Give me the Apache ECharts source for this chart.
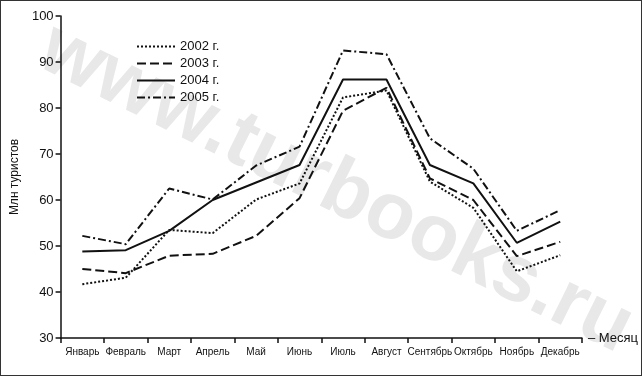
<!DOCTYPE html>
<html>
<head>
<meta charset="utf-8">
<script src="https://cdn.jsdelivr.net/npm/echarts@6/dist/echarts.min.js"></script>
<style>
  html, body { margin: 0; padding: 0; background: #fff; }
  #chart { width: 640px; height: 374px; border: 1px solid #333; }
</style>
</head>
<body>
<div id="chart"></div>
<script>
// месяцы
const months = ["Январь", "Февраль", "Март", "Апрель", "Май", "Июнь", "Июль",
  "Август", "Сентябрь", "Октябрь", "Ноябрь", "Декабрь"];

// млн туристов по годам
const y2002 = [41.7, 43.1, 53.5, 52.8, 60.1, 63.6, 82.3, 83.8, 64.0, 58.3, 44.5, 48.0];
const y2003 = [45.0, 44.1, 47.9, 48.3, 52.2, 60.4, 79.4, 84.4, 64.7, 60.0, 47.8, 50.9];
const y2004 = [48.8, 49.1, 53.3, 60.0, 63.8, 67.6, 86.2, 86.2, 67.6, 63.6, 50.7, 55.3];
const y2005 = [52.2, 50.4, 62.5, 60.1, 67.5, 71.6, 92.5, 91.7, 73.4, 66.8, 53.3, 57.8];

const font = "Liberation Sans";
const ink = "#111";

const chart = echarts.init(document.getElementById("chart"));

const line = (name, data, type, width) => ({
  name,
  type: "line",
  data,
  symbol: "none",
  z: 5,
  itemStyle: { color: ink },
  lineStyle: { color: ink, width, type }
});

chart.setOption({
  animation: false,
  textStyle: { fontFamily: font, color: ink },
  graphic: [
    {
      type: "text",
      z: -10,
      x: 335, y: 188,
      rotation: -0.46,
      style: {
        text: "www.turbooks.ru",
        font: "bold 80px Liberation Sans",
        fill: "#e8e8e8",
        align: "center",
        verticalAlign: "middle"
      }
    }
  ],
  legend: {
    orient: "vertical",
    left: 130,
    top: 34,
    itemWidth: 38,
    itemHeight: 10,
    itemGap: 4,
    itemStyle: { opacity: 0 },
    textStyle: { fontFamily: font, fontSize: 13, color: ink },
    data: ["2002 г.", "2003 г.", "2004 г.", "2005 г."]
  },
  grid: { left: 44, right: 56, top: 15, bottom: 37 },
  xAxis: {
    type: "category",
    data: months,
    boundaryGap: true,
    name: "– Месяц",
    nameLocation: "end",
    nameGap: 6,
    nameTextStyle: { fontSize: 13, color: ink, verticalAlign: "middle" },
    axisLine: { lineStyle: { color: ink, width: 1.5 } },
    axisTick: { show: true, length: 5, lineStyle: { color: ink, width: 1.5 } },
    axisLabel: { interval: 0, fontSize: 10, color: ink, margin: 9 },
    splitLine: { show: false }
  },
  yAxis: {
    type: "value",
    min: 30,
    max: 100,
    interval: 10,
    name: "Млн туристов",
    nameLocation: "middle",
    nameGap: 22,
    nameRotate: 90,
    nameTextStyle: { fontSize: 12, color: ink },
    axisLine: { show: true, lineStyle: { color: ink, width: 1.5 } },
    axisTick: { show: true, length: 5, lineStyle: { color: ink, width: 1.5 } },
    axisLabel: { fontSize: 13, color: ink, margin: 7 },
    splitLine: { show: false }
  },
  series: [
    line("2002 г.", y2002, [2, 2], 2),
    line("2003 г.", y2003, [9, 4], 2),
    line("2004 г.", y2004, "solid", 2),
    line("2005 г.", y2005, [8, 3, 2, 3], 2)
  ]
});
</script>
</body>
</html>
